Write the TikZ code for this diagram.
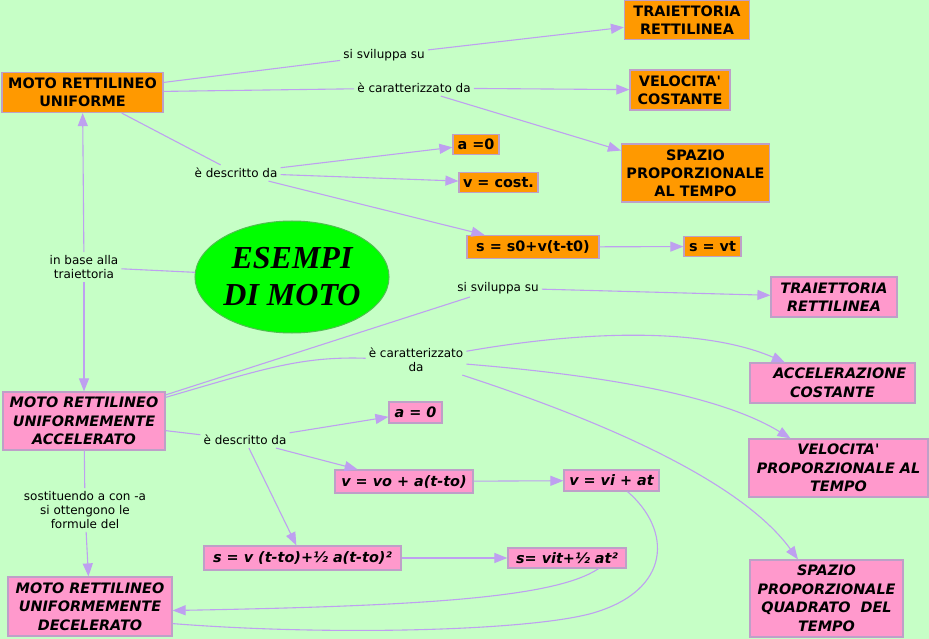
\documentclass[tikz,border=0pt]{standalone}
\usepackage{fontspec}
\setmainfont{DejaVu Sans}
\newfontfamily\titlefont{Liberation Serif}
\usetikzlibrary{shapes.geometric,arrows.meta,calc}
\definecolor{bgc}{RGB}{198,255,198}
\definecolor{orangec}{RGB}{255,153,0}
\definecolor{pinkc}{RGB}{255,153,204}
\definecolor{bordc}{RGB}{190,160,200}
\definecolor{linec}{RGB}{190,160,240}
\definecolor{ellc}{RGB}{0,255,0}
\definecolor{ellb}{RGB}{80,190,80}
\tikzset{
  box/.style={draw=bordc, line width=1.2pt, align=center, inner sep=0pt,
    font=\fontsize{14.4}{18}\selectfont\bfseries},
  obox/.style={box, fill=orangec},
  pbox/.style={box, fill=pinkc, font=\fontsize{14.4}{18.5}\selectfont\bfseries\itshape},
  lab/.style={font=\fontsize{12}{14}\selectfont, align=center, inner sep=3pt},
  con/.style={draw=linec, line width=1.1pt},
  arr/.style={con, -{Triangle[length=13pt,width=10pt,fill=linec]}}
}
\begin{document}
\begin{tikzpicture}[x=1pt,y=-1pt]
\useasboundingbox (0,0) rectangle (929,639);
\fill[bgc] (0,0) rectangle (929,639);

% orange nodes
\node[obox, minimum width=161pt, minimum height=40pt] (mru) at (82.5,92.5) {MOTO RETTILINEO\\UNIFORME};
\node[obox, minimum width=125pt, minimum height=39pt] (tr1) at (687,20) {TRAIETTORIA\\RETTILINEA};
\node[obox, minimum width=100pt, minimum height=40pt] (vc) at (680,90) {VELOCITA\textquotesingle\\COSTANTE};
\node[obox, minimum width=148pt, minimum height=58pt] (spt) at (695.5,173) {SPAZIO\\PROPORZIONALE\\AL TEMPO};
\node[obox, minimum width=46pt, minimum height=20pt] (a0) at (476,144.5) {a =0};
\node[obox, minimum width=79pt, minimum height=20pt] (vcost) at (498.5,182.5) {v = cost.};
\node[obox, minimum width=132pt, minimum height=23pt] (s0) at (533,247) {s = s0+v(t-t0)};
\node[obox, minimum width=57pt, minimum height=20pt] (svt) at (712.5,246.5) {s = vt};

% ellipse
\node[ellipse, fill=ellc, draw=ellb, line width=1pt, minimum width=190pt, minimum height=112pt, inner sep=0pt,
  align=center, font=\titlefont\fontsize{32}{37}\selectfont\bfseries\itshape] (ell) at (292,277) {ESEMPI\\DI MOTO};

% pink nodes
\node[pbox, minimum width=162pt, minimum height=58pt] (mrua) at (84,421) {MOTO RETTILINEO\\UNIFORMEMENTE\\ACCELERATO};
\node[pbox, minimum width=126pt, minimum height=40pt] (tr2) at (834,297) {TRAIETTORIA\\RETTILINEA};
\node[pbox, minimum width=165pt, minimum height=40pt] (acc) at (832.5,383) {\hspace*{1em}ACCELERAZIONE\\COSTANTE};
\node[pbox, minimum width=179pt, minimum height=58pt] (vpt) at (838.5,468) {VELOCITA\textquotesingle\\PROPORZIONALE AL\\TEMPO};
\node[pbox, minimum width=153pt, minimum height=77pt] (sqt) at (826.5,598.5) {SPAZIO\\PROPORZIONALE\\QUADRATO\ \ DEL\\TEMPO};
\node[pbox, minimum width=53pt, minimum height=21pt] (pa0) at (415.5,412.5) {a = 0};
\node[pbox, minimum width=138pt, minimum height=23pt] (vvo) at (404,481.5) {v = vo + a(t-to)};
\node[pbox, minimum width=95pt, minimum height=21pt] (vvi) at (611.5,480.5) {v = vi + at};
\node[pbox, minimum width=197pt, minimum height=24pt] (svto) at (302.5,558) {s = v (t-to)+½ a(t-to)²};
\node[pbox, minimum width=118pt, minimum height=20pt] (svit) at (567,558) {s= vit+½ at²};
\node[pbox, minimum width=164pt, minimum height=59pt] (mrud) at (90,606.5) {MOTO RETTILINEO\\UNIFORMEMENTE\\DECELERATO};

% labels
\node[lab] (l1) at (384,55) {si sviluppa su};
\node[lab] (l2) at (414,88) {è caratterizzato da};
\node[lab] (l3) at (236,173) {è descritto da};
\node[lab] (l4) at (84,267) {in base alla\\traiettoria};
\node[lab] (l5) at (498,288) {si sviluppa su};
\node[lab] (l6) at (416,360) {è caratterizzato\\da};
\node[lab] (l7) at (245,440) {è descritto da};
\node[lab] (l8) at (85,510) {sostituendo a con -a\\si ottengono le\\formule del};

% connectors top
\draw[con] (mru) -- (l1);
\draw[arr] (l1) -- (tr1);
\draw[con] (mru) -- (l2);
\draw[arr] (l2) -- (vc);
\draw[arr] (l2) -- (spt);
\draw[con] (mru) -- (l3);
\draw[arr] (l3) -- (a0);
\draw[arr] (l3) -- (vcost);
\draw[arr] (l3) -- (s0);
\draw[arr] (s0) -- (svt);

% ellipse
\draw[con] (ell) -- (l4);
\draw[arr] (l4) -- (mru);
\draw[arr] (l4) -- (mrua);

% bottom
\draw[con] (mrua) -- (l5);
\draw[arr] (l5) -- (tr2);
\draw[con] (mrua) .. controls (260,370) and (300,356) .. (l6);
\draw[arr] (l6) .. controls (600,328) and (710,330) .. (acc);
\draw[arr] (l6) .. controls (600,375) and (720,395) .. (vpt);
\draw[arr] (l6) .. controls (600,420) and (740,480) .. (sqt);
\draw[con] (mrua) -- (l7);
\draw[arr] (l7) -- (pa0);
\draw[arr] (l7) -- (vvo);
\draw[arr] (l7) -- (svto);
\draw[arr] (vvo) -- (vvi);
\draw[arr] (svto) -- (svit);
\draw[arr] ([xshift=-28pt]svit.south east) .. controls (555,598) and (420,606) .. ([yshift=-4pt]mrud.east);
\draw[con] ([xshift=16pt]vvi.south) .. controls (672,530) and (672,590) .. (593,613)
  .. controls (530,631) and (330,636) .. ([yshift=13pt]mrud.south east);
\draw[con] (mrua) -- (l8);
\draw[arr] (l8) -- (mrud);
\end{tikzpicture}
\end{document}
